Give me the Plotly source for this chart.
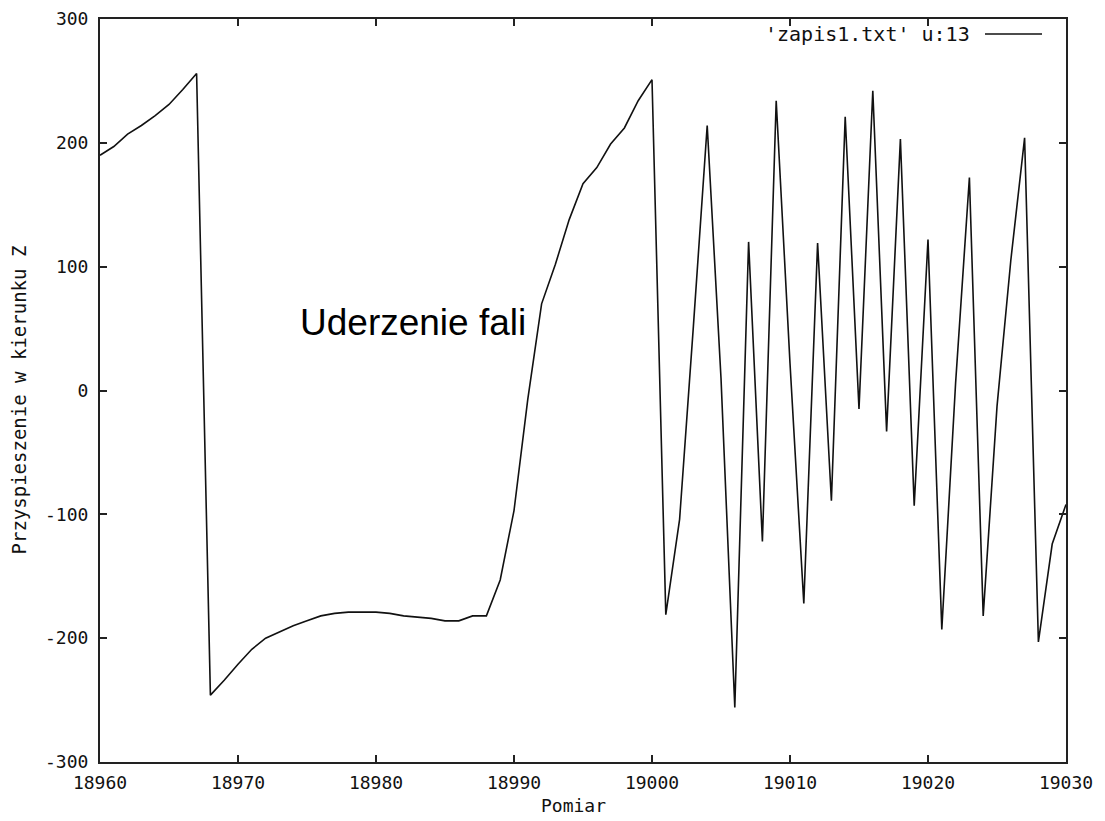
import plotly.graph_objects as go

# Sample index (Pomiar) and acceleration in Z direction
pomiar = list(range(18960, 19031))
przyspieszenie = [
    190, 197, 207, 214, 222, 231, 243, 256,          # 18960-18967
    -246, -234, -221, -209, -200, -195, -190, -186,  # 18968-18975
    -182, -180, -179, -179, -179, -180, -182, -183,  # 18976-18983
    -184, -186, -186, -182, -182, -153, -97, -7,     # 18984-18991
    70, 102, 138, 167, 180, 199, 212, 234,           # 18992-18999
    251, -181, -104, 52, 214, 10, -256, 120,         # 19000-19007
    -122, 234, 22, -172, 119, -89, 221, -15,         # 19008-19015
    242, -33, 203, -93, 122, -193, 6, 172,           # 19016-19023
    -182, -13, 105, 204, -203, -124, -92             # 19024-19030
]

x_ticks = [18960, 18970, 18980, 18990, 19000, 19010, 19020, 19030]
y_ticks = [-300, -200, -100, 0, 100, 200, 300]

series_name = "'zapis1.txt' u:13"
annotation_text = "Uderzenie fali"
x_title = "Pomiar"
y_title = "Przyspieszenie w kierunku Z"

MONO = "DejaVu Sans Mono"
FS = 18

# page body has an 8px default margin; compensate so the plot area lands at
# x 100..1066, y 19..762 in the 1105x821 window
PAGE_OFF = 8
PLOT_L, PLOT_R, PLOT_T, PLOT_B = 100, 1066, 19, 762
FIG_W, FIG_H = 1105 - PAGE_OFF, 821 - PAGE_OFF
m_l = PLOT_L - PAGE_OFF
m_t = PLOT_T - PAGE_OFF
m_r = FIG_W - m_l - (PLOT_R - PLOT_L)
m_b = FIG_H - m_t - (PLOT_B - PLOT_T)
PW, PH = PLOT_R - PLOT_L, PLOT_B - PLOT_T

fig = go.Figure()
fig.add_trace(go.Scatter(
    x=pomiar, y=przyspieszenie, mode="lines",
    line=dict(color="#111111", width=1.6),
    name=series_name, showlegend=False,
))

axis_common = dict(
    showgrid=False, zeroline=False, automargin=False,
    showline=True, linecolor="#222222", linewidth=2,
    mirror="ticks", ticks="inside", ticklen=7, tickwidth=2, tickcolor="#222222",
    tickfont=dict(family=MONO, size=FS, color="#111111"),
)

fig.update_xaxes(range=[18960, 19030], tickvals=x_ticks,
                 ticktext=[str(v) for v in x_ticks], ticklabelstandoff=3, **axis_common)
fig.update_yaxes(range=[-300, 300], tickvals=y_ticks,
                 ticktext=[str(v) for v in y_ticks], ticklabelstandoff=6, **axis_common)

fig.update_layout(
    width=FIG_W, height=FIG_H,
    margin=dict(l=m_l, r=m_r, t=m_t, b=m_b, autoexpand=False),
    paper_bgcolor="white", plot_bgcolor="white",
    showlegend=False,
)

# Axis titles
fig.add_annotation(text=x_title, xref="paper", yref="paper", x=0.49, y=0,
                   yshift=-43, showarrow=False, xanchor="center", yanchor="middle",
                   font=dict(family=MONO, size=FS, color="#111111"))
fig.add_annotation(text=y_title, xref="paper", yref="paper", x=0, y=0.5,
                   xshift=-82, yshift=-10, showarrow=False, textangle=-90,
                   xanchor="center", yanchor="middle",
                   font=dict(family=MONO, size=FS + 1, color="#111111"))

# Legend (gnuplot style: text then line sample)
leg_y = 1 - 15 / PH
fig.add_annotation(text=series_name, xref="paper", yref="paper", x=(972 - PLOT_L) / PW,
                   y=leg_y, showarrow=False, xanchor="right", yanchor="middle",
                   font=dict(family=MONO, size=20, color="#111111"))
fig.add_shape(type="line", xref="paper", yref="paper",
              x0=(985 - PLOT_L) / PW, x1=(1042 - PLOT_L) / PW,
              y0=leg_y, y1=leg_y,
              line=dict(color="#111111", width=1.6))

# Annotation
fig.add_annotation(text=annotation_text, x=18982.7, y=55, showarrow=False,
                   xanchor="center", yanchor="middle",
                   font=dict(family="Liberation Sans", size=37, color="black"))

fig.write_html("out.html")
